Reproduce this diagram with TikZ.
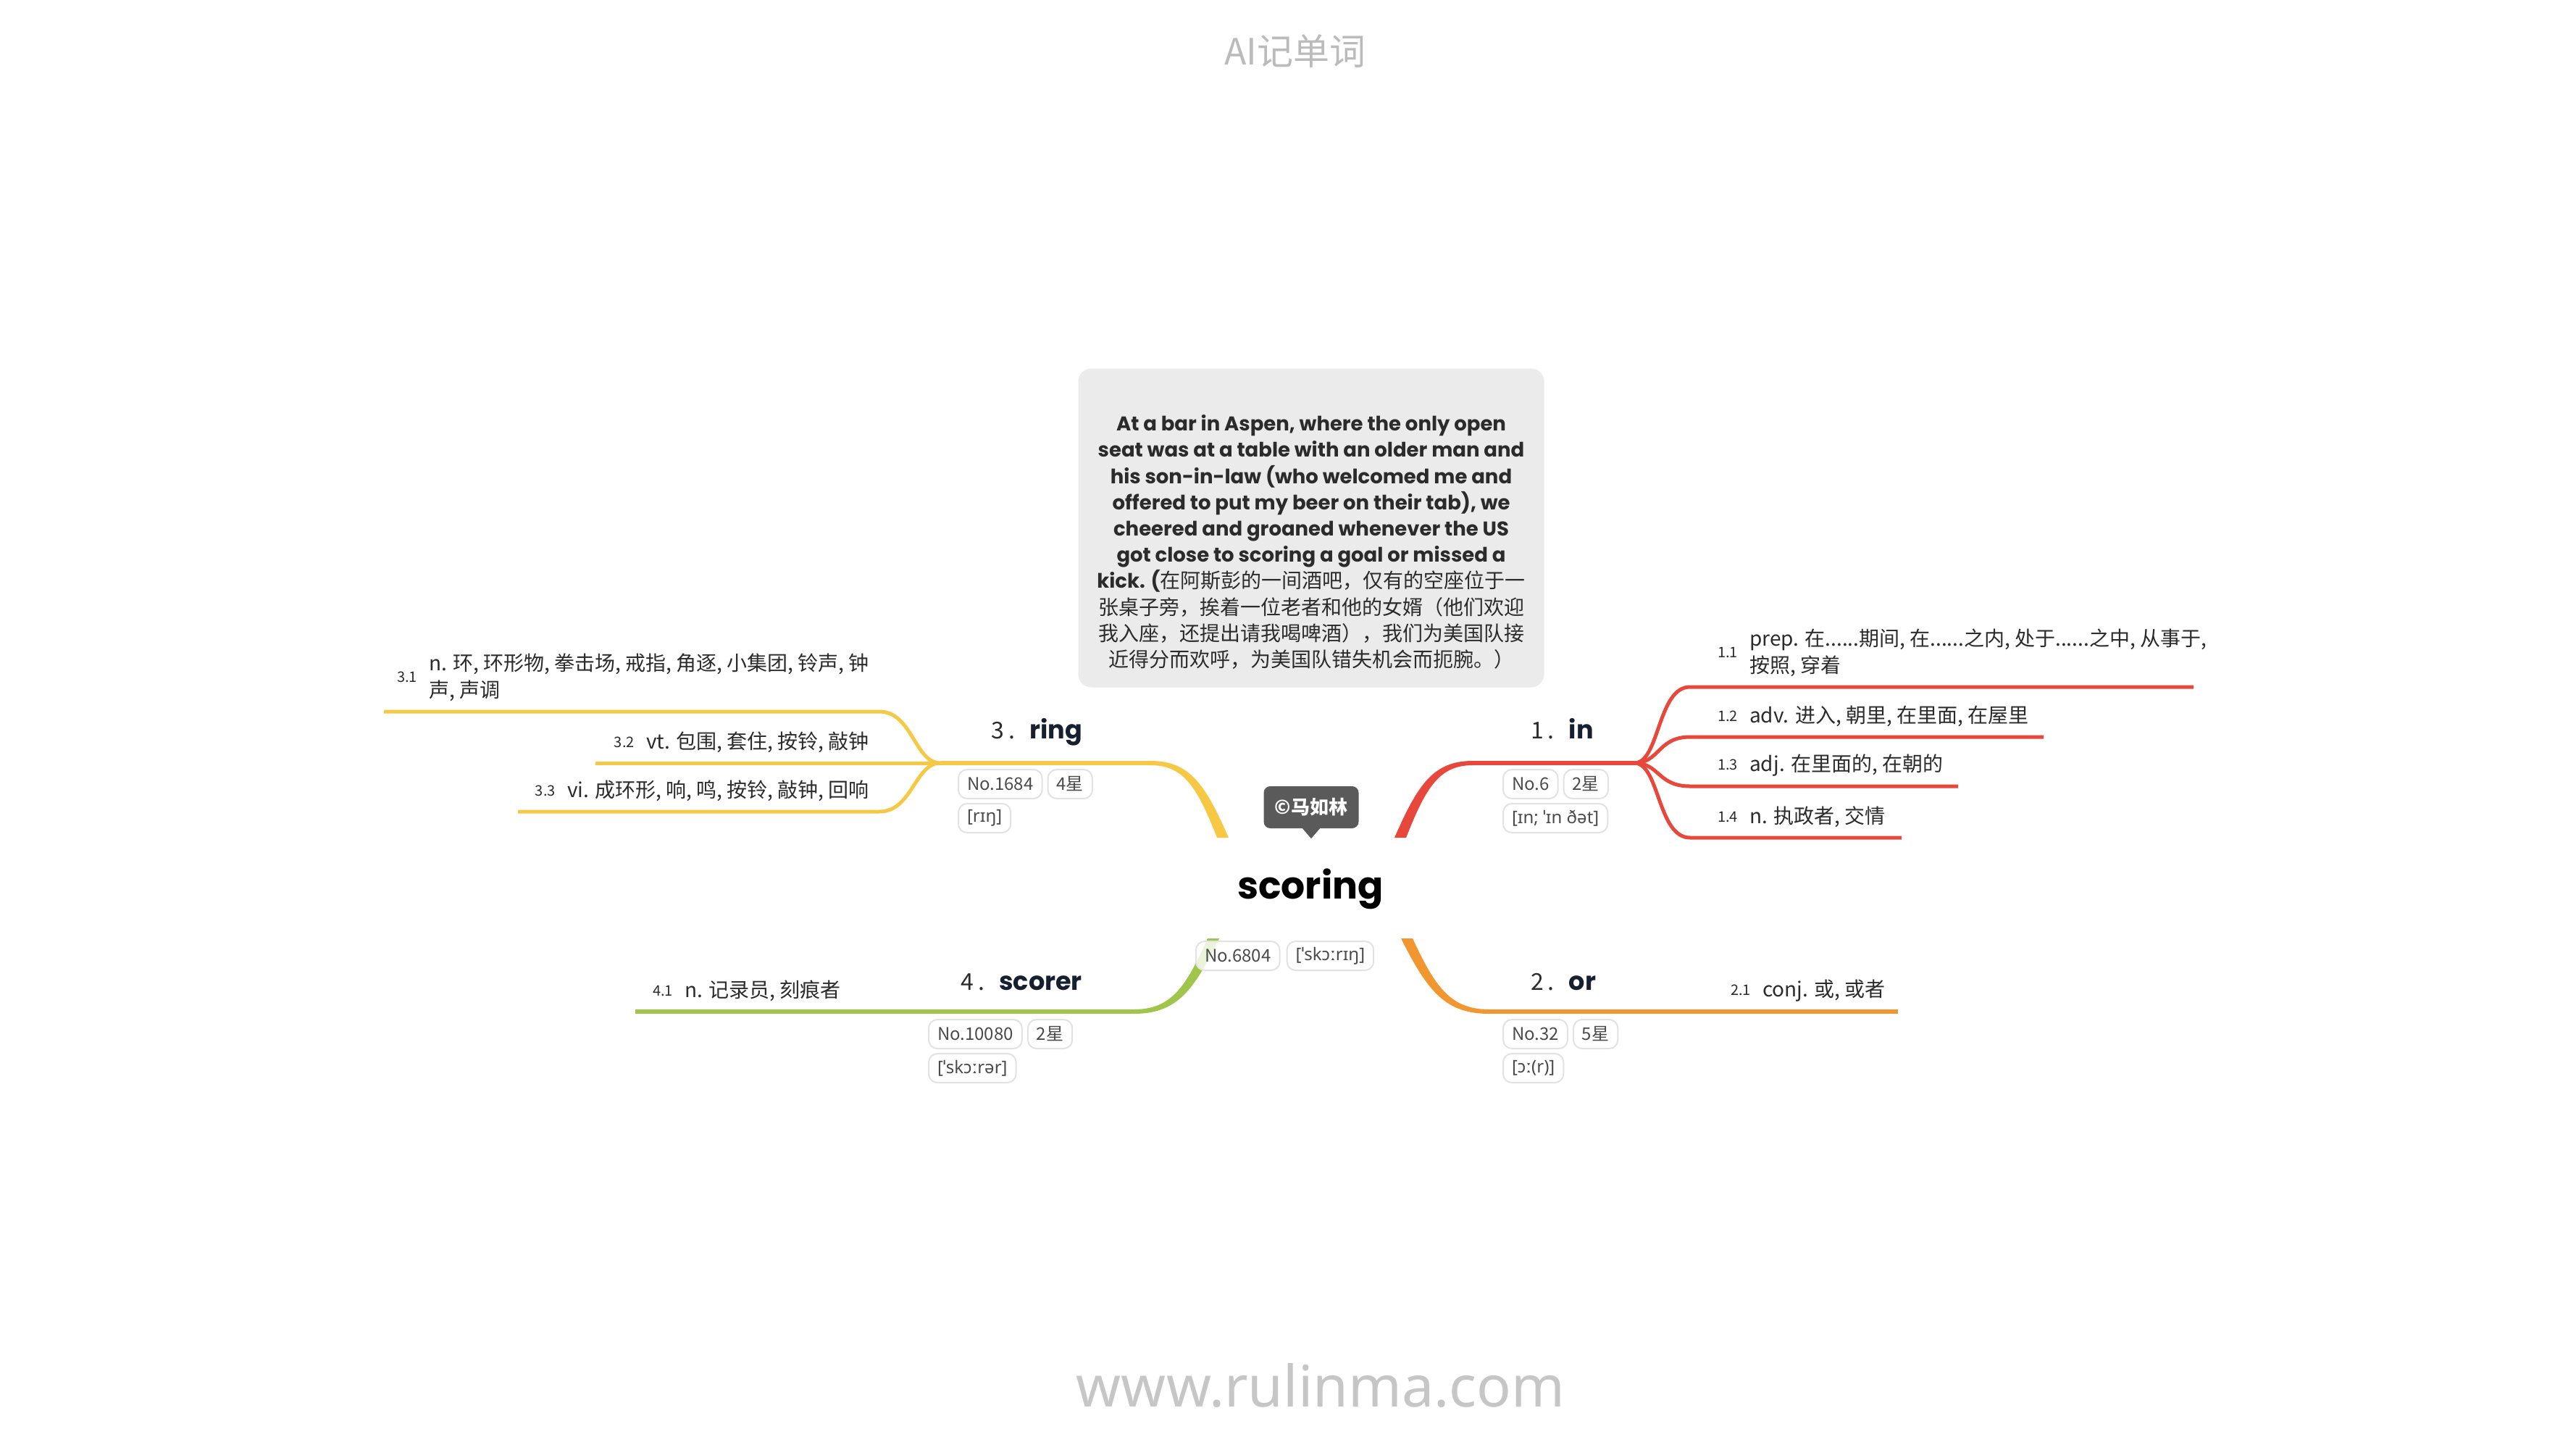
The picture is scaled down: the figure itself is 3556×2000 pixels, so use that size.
\documentclass[tikz,border=0pt]{standalone}
\usepackage{fontspec}
\setmainfont{Noto Sans CJK SC}
\newfontfamily\popfont{Poppins}
\newfontfamily\ipafont{Noto Sans}
\usetikzlibrary{calc,positioning}
\definecolor{branchred}{HTML}{E8483B}
\definecolor{branchorange}{HTML}{F2962F}
\definecolor{branchyellow}{HTML}{F7C844}
\definecolor{branchgreen}{HTML}{9FC54B}
\definecolor{notegray}{HTML}{EBEBEB}
\definecolor{markgray}{HTML}{5A5A5A}
\definecolor{ink}{HTML}{2B2B2B}
\definecolor{topicink}{HTML}{17202E}
\definecolor{tagedge}{HTML}{E2E2E2}
\definecolor{tagink}{HTML}{4A4A4A}
\definecolor{titlegray}{HTML}{BBBBBB}
\definecolor{sitegray}{HTML}{C6C6C6}
\def\limb[#1](#2)(#3)(#4:#5){\fill[#1] let \p1=($(#2)+(#4,0)$), \p2=($(#3)+(0,#5)$), \p3=($(#2)-(#4,0)$), \p4=($(#3)-(0,#5)$) in (\p1) .. controls ({\x1+0.3*(\x2-\x1)},{\y1+0.7*(\y2-\y1)}) and ({\x1+0.5*(\x2-\x1)},\y2) .. (\p2) -- (\p4) .. controls ({\x3+0.5*(\x4-\x3)},\y4) and ({\x3+0.3*(\x4-\x3)},{\y3+0.7*(\y4-\y3)}) .. (\p3) -- cycle;}
\newcommand\topic[2]{{\fontsize{32}{36}\selectfont #1\hspace{6pt}.}\hspace{20pt}{\popfont\bfseries\fontsize{35}{40}\selectfont\color{topicink}#2}}
\newcommand\zh[1]{{\normalfont\fontsize{28}{36.2}\selectfont #1}}
\tikzset{
  meaning/.style={font=\fontsize{28}{37}\selectfont, text=ink, inner sep=0pt, align=left},
  numlab/.style={font=\fontsize{20}{24}\selectfont, text=ink, inner sep=0pt},
  topiclab/.style={text=ink, inner sep=0pt},
  tagbox/.style={draw=tagedge, line width=2pt, rounded corners=12pt, fill=white, fill opacity=.8, text opacity=1, text=tagink, font=\fontsize{24}{28}\selectfont, minimum height=40pt, inner xsep=12pt, inner ysep=0pt},
  ipatag/.style={tagbox, font=\ipafont\fontsize{24}{28}\selectfont},
  subline/.style={line width=5pt},
  notetext/.style={font=\popfont\bfseries\fontsize{27.5}{36.2}\selectfont, text=ink, align=center, inner sep=0pt}
}
\begin{document}
\begin{tikzpicture}[x=1pt,y=-1pt]
			%%%%% PAGE %%%%%
			\fill[white] (0,0) rectangle (3556,2000);
			\useasboundingbox (0,0) rectangle (3556,2000);
			
			\node[font=\fontsize{50}{60}\selectfont, text=titlegray] (title) at (1788,71) {AI记单词};
			\node[font=\ipafont\fontsize{79}{90}\selectfont, text=sitegray] (site) at (1823,1912) {www.rulinma.com};
			
			\begin{scope}[shift={(-12,-7)}]
			%%%%% NOTE %%%%%
			\node[fill=notegray, rounded corners=18pt, minimum width=643pt, minimum height=440pt, inner sep=0pt] (note) at (1822,735.5) {};
			\node[notetext] (notetxt) at (1822,755) {At a bar in Aspen, where the only open\\
				seat was at a table with an older man and\\
				his son-in-law (who welcomed me and\\
				offered to put my beer on their tab), we\\
				cheered and groaned whenever the US\\
				got close to scoring a goal or missed a\\
				kick. (\zh{在阿斯彭的一间酒吧，仅有的空座位于一}\\
				\zh{张桌子旁，挨着一位老者和他的女婿（他们欢迎}\\
				\zh{我入座，还提出请我喝啤酒），我们为美国队接}\\
				\zh{近得分而欢呼，为美国队错失机会而扼腕。）}};
			
			%%%%% BRANCHES %%%%%
			\coordinate (s1) at (1945,1163); \coordinate (e1) at (2045,1060); \coordinate (f1) at (2268,1060);
			\coordinate (s2) at (1954,1302); \coordinate (e2) at (2068,1403); \coordinate (z21) at (2632,1403);
			\coordinate (s3) at (1700,1163); \coordinate (e3) at (1600,1060); \coordinate (f3) at (1310,1060);
			\coordinate (s4) at (1687,1302); \coordinate (e4) at (1577,1403); \coordinate (z41) at (889,1403);
			
			\limb[branchred](s1)(e1)(8:3);
			\limb[branchorange](s2)(e2)(-8:3);
			\limb[branchyellow](s3)(e3)(8:-3);
			\limb[branchgreen](s4)(e4)(-8:-3);
			
			\draw[branchred, line width=6pt] (e1) -- (f1);
			\draw[branchorange, line width=6pt] (e2) -- (z21);
			\draw[branchyellow, line width=6pt] (e3) -- (f3);
			\draw[branchgreen, line width=6pt] (e4) -- (z41);
			
			\foreach \i/\yy/\xe in {1/955/3040, 2/1024/2833, 3/1092/2715, 4/1163/2637} {
				\coordinate (a1\i) at (2345,\yy); \coordinate (z1\i) at (\xe,\yy);
				\draw[branchred, subline] (f1) .. controls +(35,0) and +(-45,0) .. (a1\i) -- (z1\i);
			}
			\foreach \i/\yy/\xe in {1/989/542, 3/1127/727} {
				\coordinate (a3\i) at (1226,\yy); \coordinate (z3\i) at (\xe,\yy);
				\draw[branchyellow, subline] (f3) .. controls +(-35,0) and +(45,0) .. (a3\i) -- (z3\i);
			}
			\coordinate (z32) at (834,1060);
			\draw[branchyellow, subline] (f3) -- (z32);
			
			%%%%% ROOT %%%%%
			\node[font=\popfont\bfseries\fontsize{52}{60}\selectfont, text=black, inner sep=0pt] (root) at (1821,1234) {scoring};
			\node[fill=markgray, rounded corners=9pt, text=white, font=\bfseries\fontsize{26}{30}\selectfont, minimum width=131pt, minimum height=58pt, inner sep=0pt] (mark) at (1822,1121) {©马如林};
			\fill[markgray] ([xshift=-12pt]mark.south) -- ([xshift=12pt]mark.south) -- ([yshift=-14pt]mark.south) -- cycle;
			\node[tagbox, anchor=north west] (rootno) at (1662,1305) {No.6804};
			\node[ipatag, right=8pt of rootno] (rootipa) {[ˈskɔːrɪŋ]};
			
			%%%%% 1 in %%%%%
			\node[topiclab, anchor=base west] (k1) at (2125,1026) {\topic{1}{in}};
			\node[tagbox, anchor=north west] (no1) at (2086,1068) {No.6};
			\node[tagbox, right=6pt of no1] (st1) {2星};
			\node[ipatag, below=5pt of no1.south west, anchor=north west] (ip1) {[ɪn; ˈɪn ðət]};
			\node[meaning, anchor=south west] (t11) at (2427,941) {prep. 在......期间, 在......之内, 处于......之中, 从事于,\\按照, 穿着};
			\node[meaning, anchor=south west] (t12) at (2427,1010) {adv. 进入, 朝里, 在里面, 在屋里};
			\node[meaning, anchor=south west] (t13) at (2427,1078) {adj. 在里面的, 在朝的};
			\node[meaning, anchor=south west] (t14) at (2427,1149) {n. 执政者, 交情};
			\foreach \i in {1,...,4} {\node[numlab, left=16pt of t1\i] (n1\i) {1.\i};}
			
			%%%%% 2 or %%%%%
			\node[topiclab, anchor=base west] (k2) at (2125,1373) {\topic{2}{or}};
			\node[tagbox, anchor=north west] (no2) at (2086,1413) {No.32};
			\node[tagbox, right=6pt of no2] (st2) {5星};
			\node[ipatag, below=5pt of no2.south west, anchor=north west] (ip2) {[ɔː(r)]};
			\node[meaning, anchor=south west] (t21) at (2445,1389) {conj. 或, 或者};
			\node[numlab, left=16pt of t21] (n21) {2.1};
			
			%%%%% 3 ring %%%%%
			\node[topiclab, anchor=base east] (k3) at (1506,1026) {\topic{3}{ring}};
			\node[tagbox, anchor=north west] (no3) at (1334,1068) {No.1684};
			\node[tagbox, right=6pt of no3] (st3) {4星};
			\node[ipatag, below=5pt of no3.south west, anchor=north west] (ip3) {[rɪŋ]};
			\node[meaning, anchor=south east] (t31) at (1212,975) {n. 环, 环形物, 拳击场, 戒指, 角逐, 小集团, 铃声, 钟\\声, 声调};
			\node[meaning, anchor=south east] (t32) at (1212,1046) {vt. 包围, 套住, 按铃, 敲钟};
			\node[meaning, anchor=south east] (t33) at (1212,1113) {vi. 成环形, 响, 鸣, 按铃, 敲钟, 回响};
			\foreach \i in {1,2,3} {\node[numlab, left=16pt of t3\i] (n3\i) {3.\i};}
			
			%%%%% 4 scorer %%%%%
			\node[topiclab, anchor=base east] (k4) at (1506,1373) {\topic{4}{scorer}};
			\node[tagbox, anchor=north west] (no4) at (1293,1413) {No.10080};
			\node[tagbox, right=6pt of no4] (st4) {2星};
			\node[ipatag, below=5pt of no4.south west, anchor=north west] (ip4) {[ˈskɔːrər]};
			\node[meaning, anchor=south west] (t41) at (957,1389) {n. 记录员, 刻痕者};
			\node[numlab, left=16pt of t41] (n41) {4.1};
			\end{scope}
			%%%%% END %%%%%
\end{tikzpicture}
\end{document}
